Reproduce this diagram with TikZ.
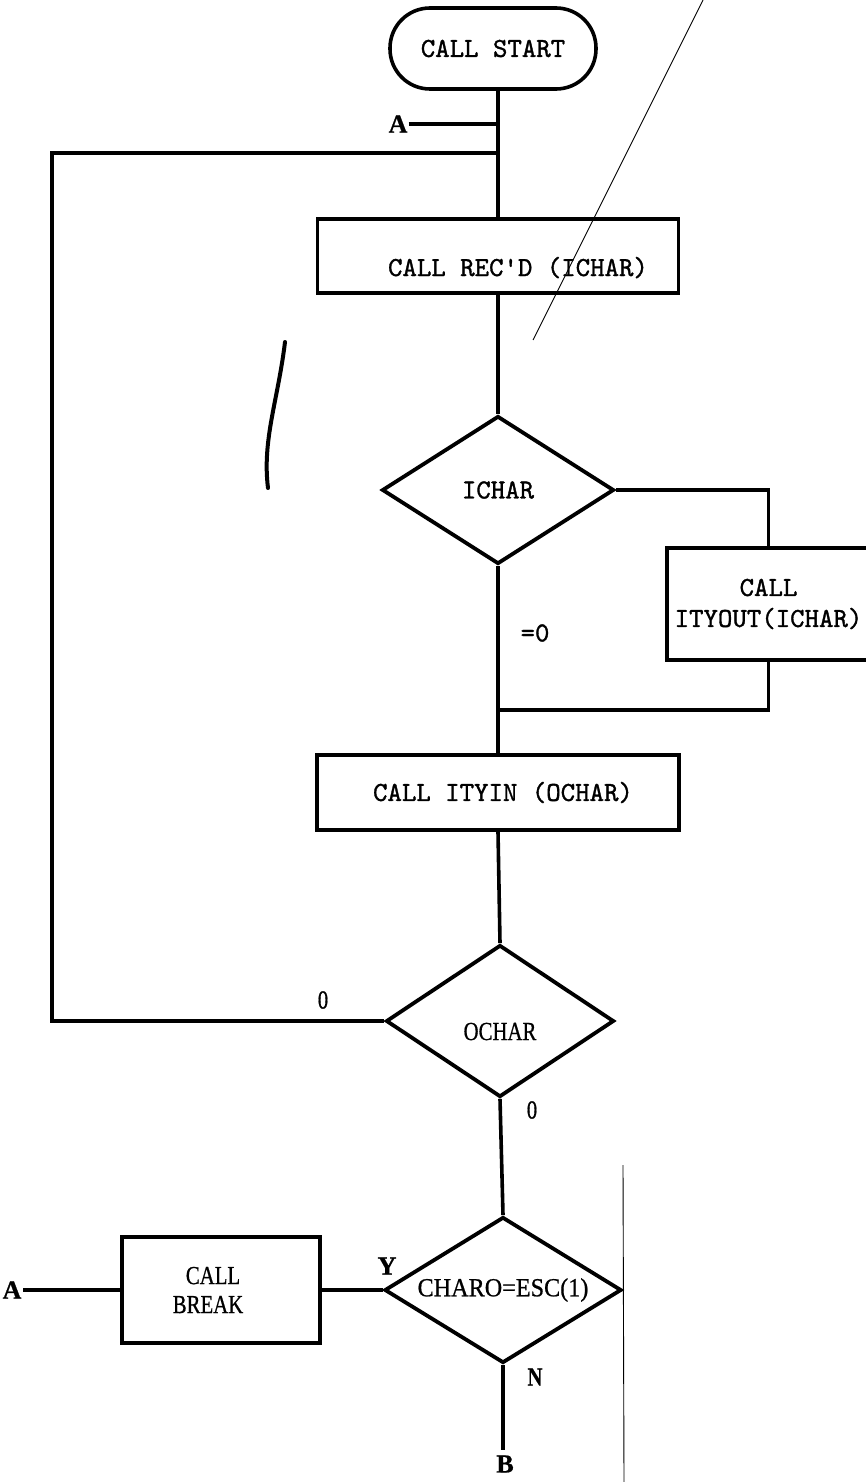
\documentclass[tikz,border=0pt]{standalone}
\usepackage{fontspec}
\usepackage{graphicx}
\usetikzlibrary{shapes.geometric}
\setmainfont{Liberation Serif}
\newfontfamily\twfont[FakeBold=1.2]{lmmono10-regular.otf}
\newfontfamily\srfont[FakeBold=0.8]{Liberation Serif}
\newcommand{\tw}{\twfont\fontsize{27.5}{31}\selectfont}
\newcommand{\sr}{\srfont\fontsize{26}{29}\selectfont}
\newcommand{\cnd}[1]{\scalebox{0.8}[1]{#1}}
\newcommand{\lowered}[2]{\raisebox{#1}[0pt][0pt]{#2}}
\tikzset{
  ln/.style={line width=3.6pt},
  box/.style={draw, rectangle, line width=3.6pt, inner sep=0pt, align=center, font=\tw},
  term/.style={draw, rectangle, rounded corners=40pt, line width=3.6pt, inner sep=0pt, font=\tw},
  dec/.style={draw, diamond, shape aspect=1.6, line width=3.8pt, inner sep=0pt},
  lbl/.style={inner sep=1pt, font=\sr},
  blbl/.style={inner sep=1pt, font=\sr\bfseries},
  scan/.style={line width=0.9pt}
}
\begin{document}
\begin{tikzpicture}[x=1pt,y=-1pt]
\useasboundingbox (0,0) rectangle (866,1482);

% nodes
\node[term, minimum width=206pt, minimum height=81pt] (start) at (493,48.5) {CALL START};
\node[box, minimum width=361pt, minimum height=74pt] (recd) at (498,256)
  {\hspace*{40pt}\lowered{-20pt}{CALL REC'D (ICHAR)}};
\node[dec, minimum width=232pt, minimum height=148pt, font=\tw] (ichar) at (498,490) {ICHAR};
\node[box, minimum width=203pt, minimum height=112pt] (ityout) at (768.5,604)
  {CALL\\ITYOUT(ICHAR)};
\node[box, minimum width=362pt, minimum height=75pt] (ityin) at (498,792.5)
  {\hspace*{10pt}CALL ITYIN (OCHAR)};
\node[dec, minimum width=228pt, minimum height=152pt, font=\sr] (ochar) at (500,1021)
  {\lowered{-19pt}{\cnd{OCHAR}}};
\node[dec, minimum width=237pt, minimum height=146pt, font=\sr] (charo) at (503,1290)
  {\scalebox{0.93}[1]{CHARO=ESC(1)}};
\node[box, minimum width=198pt, minimum height=106pt, font=\sr] (brk) at (221,1290)
  {\hspace*{-16pt}\cnd{CALL}\\\hspace*{-26pt}\cnd{BREAK}};

% labels
\node[blbl] (la1) at (398,124) {A};
\node[blbl] (la2) at (12,1290) {A};
\node[blbl] (lb) at (505,1464) {B};
\node[blbl] (ly) at (387,1266) {Y};
\node[blbl] (ln) at (535,1377) {\cnd{N}};
\node[lbl] (l0a) at (323,1000) {\cnd{0}};
\node[lbl] (l0b) at (532,1110) {\cnd{0}};
\node[inner sep=1pt, font=\tw] (leq) at (535,633) {=0};

% coordinates
\coordinate (j1) at (498,124);
\coordinate (j2) at (498,153);
\coordinate (c1) at (52,153);
\coordinate (jm) at (498,710);
\coordinate (bend) at (503,1450);

% connectors
\draw[ln] (start.south -| recd.north) -- (recd.north);
\draw[ln] (la1.east) -- (j1);
\draw[ln] (j2) -- (c1) -- (c1 |- ochar.west) -- (ochar.west);
\draw[ln] (recd.south) -- (ichar.north);
\draw[ln] (ichar.east) -| (ityout.north);
\draw[ln] (ityout.south) |- (jm);
\draw[ln] (ichar.south) -- (ityin.north);
\draw[ln] (ityin.south) -- (ochar.north);
\draw[ln] (ochar.south) -- (charo.north);
\draw[ln] (charo.west) -- (brk.east);
\draw[ln] (brk.west) -- (la2.east);
\draw[ln] (charo.south) -- (bend);

% scan marks
\draw[scan] (703,0) -- (533,340);
\draw[scan] (623,1165) -- (624,1482);
\draw[line width=4pt, line cap=round] (285,342) .. controls (278,400) and (262,440) .. (268,488);
\end{tikzpicture}
\end{document}
